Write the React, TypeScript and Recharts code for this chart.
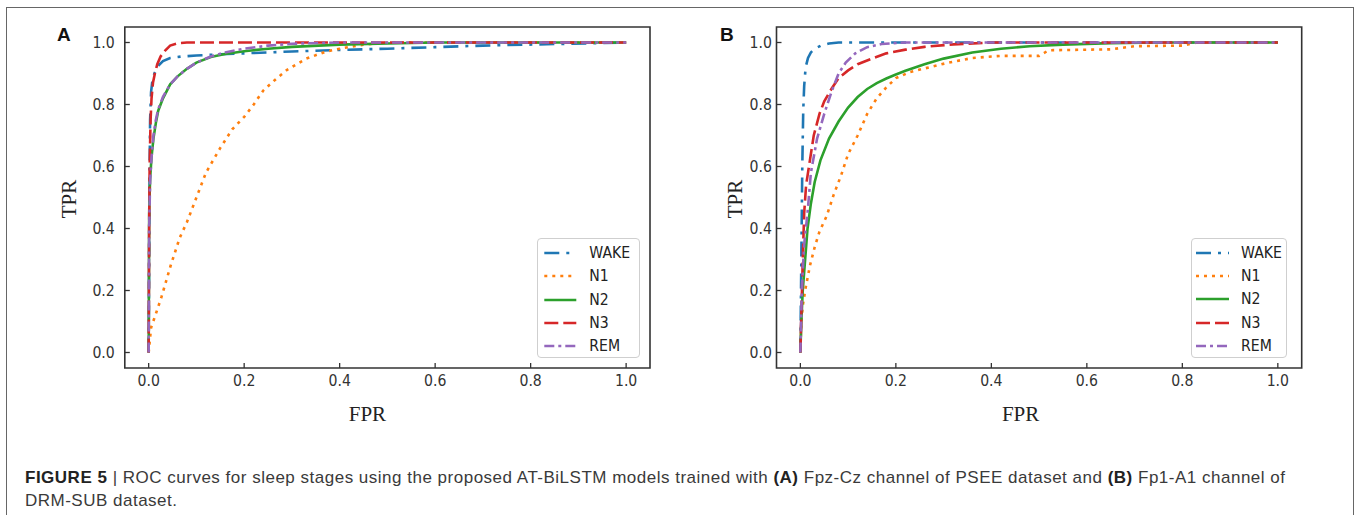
import React from 'react';
import { LineChart, Line, XAxis, YAxis, ReferenceArea, Legend, Label } from 'recharts';

type Pt = [number, number];

const SERIES_NAMES = ['WAKE', 'N1', 'N2', 'N3', 'REM'];
const SERIES_COLORS = ['#1f77b4', '#ff7f0e', '#2ca02c', '#d62728', '#9467bd'];
const SERIES_DASHES: (string | undefined)[] = ['15 7 3 7', '3 5', undefined, '14 5', '10 4 3 4'];
const AXIS_TICKS = [0, 0.2, 0.4, 0.6, 0.8, 1.0];
const AXIS_DOMAIN: [number, number] = [-0.05, 1.05];

// Panel A (Fpz-Cz channel, PSEE dataset): [FPR, TPR]
const A_WAKE: Pt[] = [[0, 0], [0.001, 0.3], [0.002, 0.6], [0.003, 0.75], [0.005, 0.84], [0.008, 0.88], [0.012, 0.9], [0.02, 0.925], [0.03, 0.94], [0.045, 0.95], [0.07, 0.955], [0.1, 0.958], [0.15, 0.962], [0.2, 0.965], [0.25, 0.968], [0.3, 0.971], [0.4, 0.976], [0.5, 0.98], [0.6, 0.985], [0.7, 0.99], [0.85, 0.995], [1, 1]];
const A_N1: Pt[] = [[0, 0], [0.005, 0.08], [0.014, 0.12], [0.027, 0.18], [0.046, 0.28], [0.065, 0.37], [0.08, 0.42], [0.1, 0.5], [0.12, 0.58], [0.15, 0.66], [0.175, 0.72], [0.2, 0.76], [0.22, 0.8], [0.24, 0.845], [0.265, 0.88], [0.29, 0.912], [0.33, 0.948], [0.37, 0.97], [0.4, 0.98], [0.45, 0.993], [0.5, 1.0], [1, 1]];
const A_N2: Pt[] = [[0, 0], [0.001, 0.45], [0.003, 0.56], [0.006, 0.63], [0.01, 0.69], [0.015, 0.74], [0.02, 0.78], [0.03, 0.82], [0.045, 0.865], [0.06, 0.89], [0.08, 0.915], [0.1, 0.935], [0.13, 0.953], [0.16, 0.963], [0.2, 0.972], [0.25, 0.98], [0.3, 0.986], [0.4, 0.993], [0.5, 0.997], [0.6, 1.0], [1, 1]];
const A_N3: Pt[] = [[0, 0], [0.001, 0.4], [0.002, 0.6], [0.004, 0.75], [0.006, 0.82], [0.009, 0.87], [0.013, 0.9], [0.018, 0.93], [0.025, 0.955], [0.035, 0.975], [0.045, 0.99], [0.06, 0.997], [0.08, 1.0], [1, 1]];
const A_REM: Pt[] = [[0, 0], [0.001, 0.4], [0.003, 0.55], [0.006, 0.63], [0.01, 0.7], [0.015, 0.75], [0.02, 0.785], [0.03, 0.825], [0.045, 0.865], [0.06, 0.89], [0.08, 0.915], [0.1, 0.935], [0.13, 0.955], [0.16, 0.968], [0.2, 0.98], [0.25, 0.99], [0.3, 0.996], [0.4, 1.0], [1, 1]];

// Panel B (Fp1-A1 channel, DRM-SUB dataset): [FPR, TPR]
const B_WAKE: Pt[] = [[0, 0], [0.002, 0.3], [0.004, 0.6], [0.006, 0.78], [0.008, 0.86], [0.011, 0.92], [0.016, 0.95], [0.022, 0.968], [0.03, 0.98], [0.043, 0.99], [0.06, 0.997], [0.08, 1.0], [1, 1]];
const B_N1: Pt[] = [[0, 0], [0.002, 0.1], [0.005, 0.15], [0.01, 0.2], [0.02, 0.28], [0.03, 0.34], [0.04, 0.39], [0.055, 0.44], [0.07, 0.51], [0.085, 0.57], [0.1, 0.64], [0.12, 0.7], [0.14, 0.77], [0.16, 0.82], [0.18, 0.855], [0.2, 0.885], [0.23, 0.905], [0.27, 0.92], [0.31, 0.935], [0.36, 0.95], [0.42, 0.957], [0.5, 0.957], [0.52, 0.975], [0.65, 0.978], [0.7, 0.988], [0.8, 0.99], [0.83, 1.0], [1, 1]];
const B_N2: Pt[] = [[0, 0], [0.002, 0.1], [0.005, 0.2], [0.01, 0.3], [0.015, 0.4], [0.022, 0.48], [0.03, 0.55], [0.042, 0.62], [0.06, 0.69], [0.08, 0.745], [0.1, 0.79], [0.12, 0.824], [0.14, 0.85], [0.16, 0.869], [0.18, 0.884], [0.2, 0.897], [0.22, 0.909], [0.26, 0.93], [0.3, 0.948], [0.36, 0.968], [0.42, 0.98], [0.48, 0.988], [0.55, 0.993], [0.65, 0.998], [0.75, 1.0], [1, 1]];
const B_N3: Pt[] = [[0, 0], [0.002, 0.12], [0.005, 0.3], [0.008, 0.45], [0.012, 0.54], [0.018, 0.6], [0.028, 0.7], [0.04, 0.77], [0.05, 0.81], [0.065, 0.85], [0.08, 0.885], [0.1, 0.91], [0.12, 0.93], [0.15, 0.948], [0.18, 0.965], [0.22, 0.977], [0.26, 0.986], [0.32, 0.994], [0.4, 1.0], [1, 1]];
const B_REM: Pt[] = [[0, 0], [0.003, 0.2], [0.008, 0.35], [0.015, 0.45], [0.022, 0.58], [0.035, 0.69], [0.05, 0.77], [0.065, 0.84], [0.08, 0.9], [0.095, 0.935], [0.115, 0.965], [0.14, 0.985], [0.17, 0.995], [0.22, 1.0], [1, 1]];

const PANEL_A_SERIES = [A_WAKE, A_N1, A_N2, A_N3, A_REM];
const PANEL_B_SERIES = [B_WAKE, B_N1, B_N2, B_N3, B_REM];

const CAPTION_BOLD = 'FIGURE 5';
const CAPTION_LINE1 = 'ROC curves for sleep stages using the proposed AT-BiLSTM models trained with';
const CAPTION_PART_A = 'Fpz-Cz channel of PSEE dataset and';
const CAPTION_PART_B = 'Fp1-A1 channel of';
const CAPTION_LINE2 = 'DRM-SUB dataset.';

const toPoints = (arr: Pt[]) => arr.map(([x, y]) => ({ fpr: x, tpr: y }));

const TICK_FONT = "'DejaVu Sans', sans-serif";
const SERIF = "'Liberation Serif', 'DejaVu Serif', serif";
const SPINE = '#333333';

interface PanelCfg {
  divLeft: number;
  plotLeft: number;
  plotRight: number;
  tickGap: number;
  tprX: number;
  fprShift: number;
  legend: { left: number; top: number; width: number; height: number; lineX1: number; lineX2: number; textX: number };
  series: Pt[][];
}

const CHART_W = 680;
const CHART_H = 430;
const PLOT_TOP = 27;
const PLOT_BOTTOM = 368;
const X_AXIS_H = 40;
const Y_AXIS_W = 60;

function makeLegend(cfg: PanelCfg['legend']) {
  return () => (
    <div
      style={{
        position: 'relative',
        width: cfg.width,
        height: cfg.height,
        boxSizing: 'border-box',
        border: '1px solid #cfcfcf',
        borderRadius: 4,
        background: 'rgba(255,255,255,0.85)',
      }}
    >
      {SERIES_NAMES.map((name, i) => {
        const cy = 14 + i * 23.2;
        return (
          <div key={name} style={{ position: 'absolute', left: 0, top: cy - 11, width: cfg.width, height: 22 }}>
            <svg width={cfg.width} height={22} style={{ position: 'absolute', left: 0, top: 0 }}>
              <line
                x1={cfg.lineX1}
                x2={cfg.lineX2}
                y1={11}
                y2={11}
                stroke={SERIES_COLORS[i]}
                strokeWidth={2.6}
                strokeDasharray={SERIES_DASHES[i]}
              />
              <text
                transform={`translate(${cfg.textX},11) scale(0.88,1)`}
                dominantBaseline="central"
                fontFamily={TICK_FONT}
                fontSize={16}
                fill="#222"
              >
                {name}
              </text>
            </svg>
          </div>
        );
      })}
    </div>
  );
}

function Panel({ cfg }: { cfg: PanelCfg }) {
  const marginLeft = cfg.plotLeft - Y_AXIS_W;
  const marginRight = CHART_W - cfg.plotRight;
  const marginBottom = CHART_H - PLOT_BOTTOM - X_AXIS_H;
  const LegendContent = makeLegend(cfg.legend);

  const xTick = (p: any) => {
    const { x, y, payload } = p;
    return (
      <g>
        <line x1={x} x2={x} y1={y} y2={y - 5} stroke={SPINE} strokeWidth={1.3} />
        <text
          transform={`translate(${x},${y + 12.5}) scale(0.88,1)`}
          textAnchor="middle"
          dominantBaseline="central"
          fontFamily={TICK_FONT}
          fontSize={16}
          fill="#333"
        >
          {Number(payload.value).toFixed(1)}
        </text>
      </g>
    );
  };

  const yTick = (p: any) => {
    const { x, y, payload } = p;
    return (
      <g>
        <line x1={x} x2={x + 5} y1={y} y2={y} stroke={SPINE} strokeWidth={1.3} />
        <text
          transform={`translate(${x - cfg.tickGap},${y}) scale(0.88,1)`}
          textAnchor="end"
          dominantBaseline="central"
          fontFamily={TICK_FONT}
          fontSize={16}
          fill="#333"
        >
          {Number(payload.value).toFixed(1)}
        </text>
      </g>
    );
  };

  return (
    <div style={{ position: 'absolute', left: cfg.divLeft, top: 0, width: CHART_W, height: CHART_H }}>
      <LineChart
        width={CHART_W}
        height={CHART_H}
        margin={{ top: PLOT_TOP, right: marginRight, bottom: marginBottom, left: marginLeft }}
      >
        <XAxis
          type="number"
          dataKey="fpr"
          domain={AXIS_DOMAIN}
          ticks={AXIS_TICKS}
          interval={0}
          allowDataOverflow
          height={X_AXIS_H}
          axisLine={false}
          tickLine={false}
          tickSize={0}
          tickMargin={0}
          tick={xTick}
        >
          <Label
            content={(props: any) => {
              const vb = props.viewBox || {};
              return (
                <text
                  x={vb.x + vb.width / 2 + cfg.fprShift}
                  y={vb.y + 52.5}
                  textAnchor="middle"
                  fontFamily={SERIF}
                  fontSize={21}
                  fill="#222"
                >
                  FPR
                </text>
              );
            }}
          />
        </XAxis>
        <YAxis
          type="number"
          dataKey="tpr"
          domain={AXIS_DOMAIN}
          ticks={AXIS_TICKS}
          interval={0}
          allowDataOverflow
          width={Y_AXIS_W}
          axisLine={false}
          tickLine={false}
          tickSize={0}
          tickMargin={0}
          tick={yTick}
        >
          <Label
            content={(props: any) => {
              const vb = props.viewBox || {};
              const cx = cfg.tprX;
              const cy = vb.y + vb.height / 2 + 1.5;
              return (
                <text
                  x={cx}
                  y={cy}
                  transform={`rotate(-90, ${cx}, ${cy})`}
                  textAnchor="middle"
                  dominantBaseline="central"
                  fontFamily={SERIF}
                  fontSize={21}
                  fill="#222"
                >
                  TPR
                </text>
              );
            }}
          />
        </YAxis>
        <ReferenceArea
          x1={AXIS_DOMAIN[0]}
          x2={AXIS_DOMAIN[1]}
          y1={AXIS_DOMAIN[0]}
          y2={AXIS_DOMAIN[1]}
          fill="none"
          fillOpacity={0}
          stroke={SPINE}
          strokeWidth={1.6}
          ifOverflow="visible"
        />
        {cfg.series.map((s, i) => (
          <Line
            key={SERIES_NAMES[i]}
            name={SERIES_NAMES[i]}
            data={toPoints(s)}
            dataKey="tpr"
            type="linear"
            stroke={SERIES_COLORS[i]}
            strokeWidth={2.6}
            strokeDasharray={SERIES_DASHES[i]}
            dot={false}
            activeDot={false}
            isAnimationActive={false}
          />
        ))}
        <Legend
          layout="vertical"
          align="center"
          verticalAlign="middle"
          content={LegendContent}
          wrapperStyle={{
            position: 'absolute',
            left: cfg.legend.left,
            top: cfg.legend.top,
            width: cfg.legend.width,
            height: cfg.legend.height,
            bottom: 'auto',
            right: 'auto',
          }}
        />
      </LineChart>
    </div>
  );
}

const PANEL_A: PanelCfg = {
  divLeft: 0,
  plotLeft: 124.8,
  plotRight: 650,
  tickGap: 10,
  tprX: 68.5,
  fprShift: -20,
  legend: { left: 536.7, top: 238.3, width: 103, height: 120, lineX1: 6.3, lineX2: 38.3, textX: 51.3 },
  series: PANEL_A_SERIES,
};

const PANEL_B: PanelCfg = {
  divLeft: 680,
  plotLeft: 96.5,
  plotRight: 621.7,
  tickGap: 4.5,
  tprX: 54.5,
  fprShift: -18.5,
  legend: { left: 511, top: 238, width: 96, height: 120, lineX1: 4, lineX2: 37, textX: 49 },
  series: PANEL_B_SERIES,
};

export default function App() {
  const capFont = "'Liberation Sans', Arial, Helvetica, sans-serif";
  return (
    <div style={{ position: 'absolute', left: 0, top: 0, width: 1360, height: 515, overflow: 'hidden', background: '#fff' }}>
      <div
        style={{
          position: 'absolute',
          left: 6,
          top: 7,
          width: 1348,
          height: 540,
          border: '1.5px solid #666',
          boxSizing: 'border-box',
        }}
      />
      <Panel cfg={PANEL_A} />
      <Panel cfg={PANEL_B} />
      <svg width={1360} height={515} style={{ position: 'absolute', left: 0, top: 0, pointerEvents: 'none' }}>
        <text x={57} y={41} fontFamily={capFont} fontWeight={700} fontSize={19} fill="#111">A</text>
        <text x={720} y={41} fontFamily={capFont} fontWeight={700} fontSize={19} fill="#111">B</text>
        <text x={25} y={482.5} fontFamily={capFont} fontSize={17} fill="#3a3a3a" textLength={1260} lengthAdjust="spacing">
          <tspan fontWeight={700} fill="#222">{CAPTION_BOLD + ' '}</tspan>
          <tspan>{'| ' + CAPTION_LINE1 + ' '}</tspan>
          <tspan fontWeight={700} fill="#222">(A)</tspan>
          <tspan>{' ' + CAPTION_PART_A + ' '}</tspan>
          <tspan fontWeight={700} fill="#222">(B)</tspan>
          <tspan>{' ' + CAPTION_PART_B}</tspan>
        </text>
        <text x={25} y={505.5} fontFamily={capFont} fontSize={17} fill="#3a3a3a" textLength={152} lengthAdjust="spacing">
          {CAPTION_LINE2}
        </text>
      </svg>
    </div>
  );
}
